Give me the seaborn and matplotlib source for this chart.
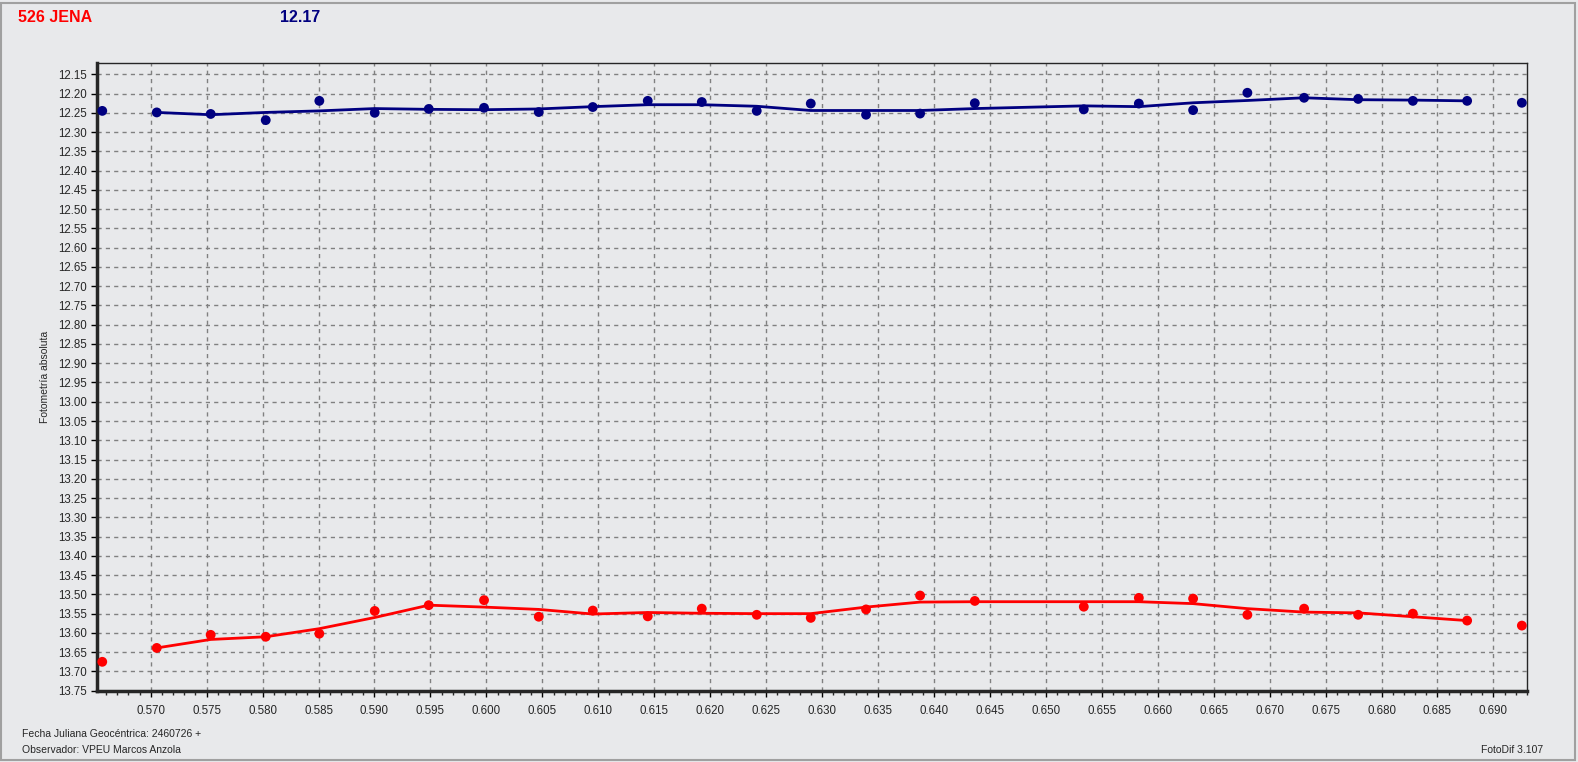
import numpy as np
import pandas as pd
import seaborn as sns
import matplotlib.pyplot as plt
from matplotlib.ticker import MultipleLocator, FormatStrFormatter
from matplotlib.patches import Rectangle

# Fecha juliana (fraccion) de cada medida
jd = [0.56567, 0.57054, 0.57536, 0.58028, 0.58507, 0.59002, 0.59485, 0.59979,
      0.60468, 0.60951, 0.61442, 0.61925, 0.62416, 0.62899, 0.63393, 0.63876,
      0.64365, 0.65339, 0.65831, 0.66316, 0.66801, 0.67308, 0.67791, 0.68280,
      0.68765, 0.69254]

# estrella de comparacion (azul) y asteroide (rojo)
comp_mag = [12.245, 12.249, 12.253, 12.269, 12.219, 12.250, 12.240, 12.237,
            12.248, 12.235, 12.219, 12.222, 12.245, 12.226, 12.255, 12.252,
            12.225, 12.241, 12.226, 12.243, 12.198, 12.211, 12.214, 12.219,
            12.219, 12.224]
ast_mag = [13.675, 13.639, 13.605, 13.610, 13.602, 13.543, 13.528, 13.515,
           13.558, 13.542, 13.557, 13.537, 13.553, 13.561, 13.539, 13.503,
           13.517, 13.532, 13.509, 13.511, 13.553, 13.537, 13.553, 13.550,
           13.568, 13.581]

# curvas suavizadas (sin los extremos)
comp_smooth = [12.249, 12.255, 12.249, 12.245, 12.239, 12.241, 12.242, 12.240,
               12.234, 12.229, 12.229, 12.233, 12.244, 12.244, 12.244, 12.239,
               12.232, 12.234, 12.224, 12.218, 12.211, 12.216, 12.217, 12.219]
ast_smooth = [13.639, 13.617, 13.610, 13.589, 13.560, 13.528, 13.533, 13.539,
              13.551, 13.547, 13.549, 13.550, 13.550, 13.533, 13.520, 13.519,
              13.519, 13.519, 13.524, 13.537, 13.546, 13.548, 13.558, 13.568]

title_name = "526 JENA"
title_mag = "12.17"

sns.set_style("ticks")
plt.rcParams['font.family'] = ['Liberation Sans', 'DejaVu Sans']

bg = "#e8e9eb"
fig = plt.figure(figsize=(15.78, 7.62), dpi=100, facecolor=bg)
ax = fig.add_axes([97 / 1578, 1 - 690.7 / 762, 1430 / 1578, 627.4 / 762])
ax.set_facecolor(bg)

pts = pd.DataFrame({"jd": jd, "comp": comp_mag, "ast": ast_mag})
smooth = pd.DataFrame({"jd": jd[1:-1], "comp": comp_smooth, "ast": ast_smooth})

sns.lineplot(data=smooth, x="jd", y="comp", color="#000080", lw=2, ax=ax)
sns.lineplot(data=smooth, x="jd", y="ast", color="#ff0000", lw=2, ax=ax)
sns.scatterplot(data=pts, x="jd", y="comp", color="#000080", s=50,
                marker="o", edgecolor="none", ax=ax, clip_on=False, zorder=5)
sns.scatterplot(data=pts, x="jd", y="ast", color="#ff0000", s=50,
                marker="o", edgecolor="none", ax=ax, clip_on=False, zorder=5)

ax.set_xlim(0.5652, 0.6930)
ax.set_ylim(13.75, 12.1215)
ax.xaxis.set_major_locator(MultipleLocator(0.005))
ax.xaxis.set_minor_locator(MultipleLocator(0.001))
ax.yaxis.set_major_locator(MultipleLocator(0.05))
ax.xaxis.set_major_formatter(FormatStrFormatter("%.3f"))
ax.yaxis.set_major_formatter(FormatStrFormatter("%.2f"))
ax.grid(True, which="major", color="#808080", linestyle=(0, (3, 3)), lw=1)
ax.tick_params(axis="both", which="major", labelsize=8.3, length=4, width=1,
               color="black", pad=3)
ax.tick_params(axis="x", which="minor", length=3, width=1)
ax.tick_params(axis="x", pad=6)

for s in ["top", "right"]:
    ax.spines[s].set_linewidth(1)
for s in ["left", "bottom"]:
    ax.spines[s].set_linewidth(2.5)

ax.set_xlabel("")
ax.set_ylabel("Fotometría absoluta", fontsize=7.5, labelpad=6)

fig.text(18 / 1578, 1 - 18 / 762, title_name, color="#ff0000", fontsize=11.5,
         fontweight="bold", va="center", ha="left")
fig.text(280 / 1578, 1 - 18 / 762, title_mag, color="#000080", fontsize=11.5,
         fontweight="bold", va="center", ha="left")
fig.text(22 / 1578, 1 - 734 / 762, "Fecha Juliana Geocéntrica: 2460726 +",
         fontsize=7.5, va="center", ha="left")
fig.text(22 / 1578, 1 - 750 / 762, "Observador: VPEU Marcos Anzola",
         fontsize=7.5, va="center", ha="left")
fig.text(1543 / 1578, 1 - 750 / 762, "FotoDif 3.107",
         fontsize=7.5, va="center", ha="right")

fig.patches.append(Rectangle((1 / 1578, 2 / 762), 1574 / 1578, 757 / 762,
                             transform=fig.transFigure, fill=False,
                             edgecolor="#a0a0a0", lw=1.5))

fig.savefig("out.png", dpi=100, facecolor=bg)
